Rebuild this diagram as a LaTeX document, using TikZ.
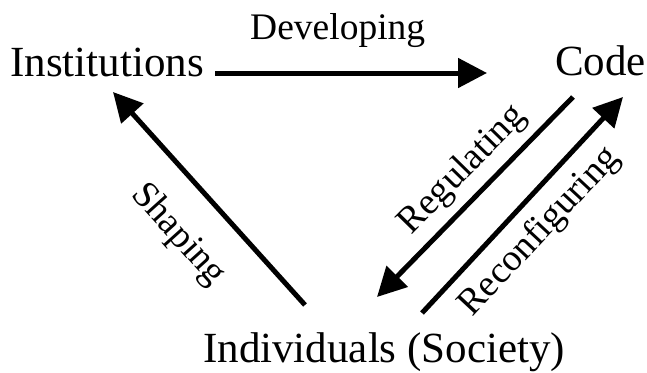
\documentclass[tikz,border=0pt]{standalone}
\usepackage{fontspec}
\setmainfont{Liberation Serif}
\usetikzlibrary{arrows.meta}
\begin{document}
\begin{tikzpicture}[x=1pt,y=1pt,
  conn/.style={line width=5pt, -{Triangle[length=29pt,width=29pt]}},
  big/.style={font=\fontsize{43}{51}\selectfont, inner sep=0pt},
  lab/.style={font=\fontsize{37.5}{45}\selectfont, inner sep=0pt}]
\useasboundingbox (0,0) rectangle (647,-372);
% main nodes
\node[big, anchor=base west] (inst) at (10,-76) {Institutions};
\node[big, anchor=base west] (code) at (555,-75) {Code};
\node[big, anchor=base west] (ind) at (203,-362) {Individuals (Society)};
% connector ends
\coordinate (devS) at (215,-73);
\coordinate (devE) at (487,-73);
\coordinate (regS) at (573,-97);
\coordinate (regE) at (377,-297);
\coordinate (recS) at (422,-313);
\coordinate (recE) at (623,-97);
\coordinate (shpS) at (305,-305);
\coordinate (shpE) at (113,-92);
% connectors
\draw[conn] (devS) -- (devE);
\draw[conn] (regS) -- (regE);
\draw[conn] (recS) -- (recE);
\draw[conn] (shpS) -- (shpE);
% labels
\node[lab, anchor=base west] (dev) at (250,-39) {Developing};
\node[lab, rotate=45.6] (reg) at (463,-170) {Regulating};
\node[lab, rotate=47] (rec) at (540,-232) {Reconfiguring};
\node[lab, rotate=-48] (shp) at (178,-235) {Shaping};
\end{tikzpicture}
\end{document}
